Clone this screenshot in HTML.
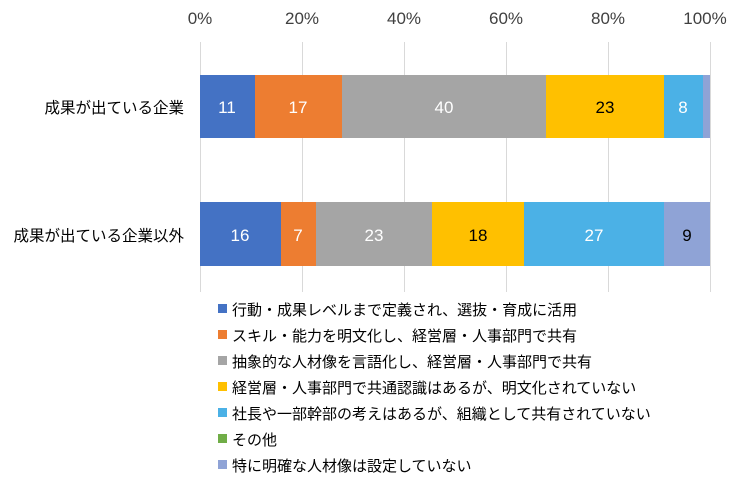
<!DOCTYPE html>
<html><head><meta charset="utf-8"><style>
body{margin:0;background:#fff;}
svg text{font-family:"Liberation Sans","Noto Sans CJK JP",sans-serif;}
</style></head><body>
<svg width="750" height="490" xmlns="http://www.w3.org/2000/svg">
<g stroke="#d9d9d9" stroke-width="1">
<line x1="200.5" y1="42" x2="200.5" y2="292"/><line x1="302.5" y1="42" x2="302.5" y2="292"/>
<line x1="404.5" y1="42" x2="404.5" y2="292"/><line x1="506.5" y1="42" x2="506.5" y2="292"/>
<line x1="608.5" y1="42" x2="608.5" y2="292"/><line x1="710.5" y1="42" x2="710.5" y2="292"/>
</g>
<g font-size="17" fill="#404040" text-anchor="middle">
<text x="200" y="24">0%</text><text x="302" y="24">20%</text><text x="404" y="24">40%</text>
<text x="506" y="24">60%</text><text x="608" y="24">80%</text><text x="705" y="24">100%</text>
</g>
<g font-size="15.5" fill="#000" text-anchor="end">
<text x="184" y="113">成果が出ている企業</text>
<text x="184" y="241">成果が出ている企業以外</text>
</g>
<rect x="200" y="75" width="55" height="63" fill="#4472c4"/>
<rect x="255" y="75" width="87" height="63" fill="#ed7d31"/>
<rect x="342" y="75" width="204" height="63" fill="#a5a5a5"/>
<rect x="546" y="75" width="118" height="63" fill="#ffc000"/>
<rect x="664" y="75" width="39" height="63" fill="#4bb1e6"/>
<rect x="703" y="75" width="7" height="63" fill="#8fa3d6"/>
<rect x="200" y="202" width="81" height="64" fill="#4472c4"/>
<rect x="281" y="202" width="35" height="64" fill="#ed7d31"/>
<rect x="316" y="202" width="116" height="64" fill="#a5a5a5"/>
<rect x="432" y="202" width="92" height="64" fill="#ffc000"/>
<rect x="524" y="202" width="140" height="64" fill="#4bb1e6"/>
<rect x="664" y="202" width="46" height="64" fill="#8fa3d6"/>
<g font-size="17" text-anchor="middle">
<text x="227" y="113" fill="#fff">11</text><text x="298" y="113" fill="#fff">17</text>
<text x="444" y="113" fill="#fff">40</text><text x="605" y="113" fill="#000">23</text>
<text x="683" y="113" fill="#fff">8</text>
<text x="240" y="241" fill="#fff">16</text><text x="298" y="241" fill="#fff">7</text>
<text x="374" y="241" fill="#fff">23</text><text x="478" y="241" fill="#000">18</text>
<text x="594" y="241" fill="#fff">27</text><text x="687" y="241" fill="#000">9</text>
</g>
<g font-size="15" fill="#000">
<rect x="218" y="304" width="9" height="9" fill="#4472c4"/><text x="232" y="315">行動・成果レベルまで定義され、選抜・育成に活用</text>
<rect x="218" y="330" width="9" height="9" fill="#ed7d31"/><text x="232" y="341">スキル・能力を明文化し、経営層・人事部門で共有</text>
<rect x="218" y="356" width="9" height="9" fill="#a5a5a5"/><text x="232" y="367">抽象的な人材像を言語化し、経営層・人事部門で共有</text>
<rect x="218" y="382" width="9" height="9" fill="#ffc000"/><text x="232" y="393">経営層・人事部門で共通認識はあるが、明文化されていない</text>
<rect x="218" y="408" width="9" height="9" fill="#4bb1e6"/><text x="232" y="419">社長や一部幹部の考えはあるが、組織として共有されていない</text>
<rect x="218" y="434" width="9" height="9" fill="#70ad47"/><text x="232" y="445">その他</text>
<rect x="218" y="460" width="9" height="9" fill="#8fa3d6"/><text x="232" y="471">特に明確な人材像は設定していない</text>
</g>
</svg>
</body></html>
